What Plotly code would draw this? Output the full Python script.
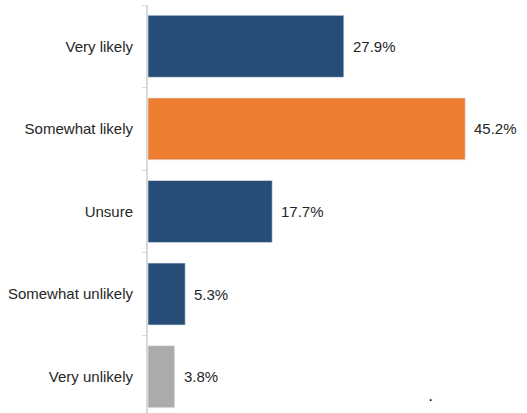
import plotly.graph_objects as go

categories = ["Very likely", "Somewhat likely", "Unsure", "Somewhat unlikely", "Very unlikely"]
values = [27.9, 45.2, 17.7, 5.3, 3.8]
labels = ["27.9%", "45.2%", "17.7%", "5.3%", "3.8%"]
colors = ["#264D78", "#ED7D31", "#264D78", "#264D78", "#ABABAB"]

FONT = "Liberation Sans, Arial"

fig = go.Figure(
    go.Bar(
        y=categories,
        x=values,
        orientation="h",
        marker=dict(color=colors, line=dict(color="#E6EBF2", width=0.6)),
        width=0.75,
        hoverinfo="skip",
    )
)

for c, v, t in zip(categories, values, labels):
    fig.add_annotation(
        x=v, y=c, xref="x", yref="y", text=t, showarrow=False,
        xanchor="left", xshift=7,
        font=dict(family=FONT, size=15, color="#262626"),
    )

fig.update_layout(
    width=527,
    height=413,
    margin=dict(l=148, r=0, t=5, b=0),
    paper_bgcolor="white",
    plot_bgcolor="white",
    showlegend=False,
    font=dict(family=FONT, size=15, color="#262626"),
    xaxis=dict(visible=False, range=[0, 54]),
    yaxis=dict(
        type="category",
        range=[4.44, -0.5],
        showline=True,
        linecolor="#D9D9D9",
        linewidth=2,
        ticks="outside",
        tickson="boundaries",
        ticklen=4,
        tickcolor="#D9D9D9",
        tickwidth=1,
        showgrid=False,
        ticklabelstandoff=10,
        tickfont=dict(family=FONT, size=15, color="#262626"),
    ),
)

fig.add_annotation(
    x=(435 - 148) / (527 - 148), y=(413 - 5 - 405) / 408, xref="paper", yref="paper",
    text="·", showarrow=False, font=dict(size=16, color="#000000"),
)

fig.write_html("out.html")
